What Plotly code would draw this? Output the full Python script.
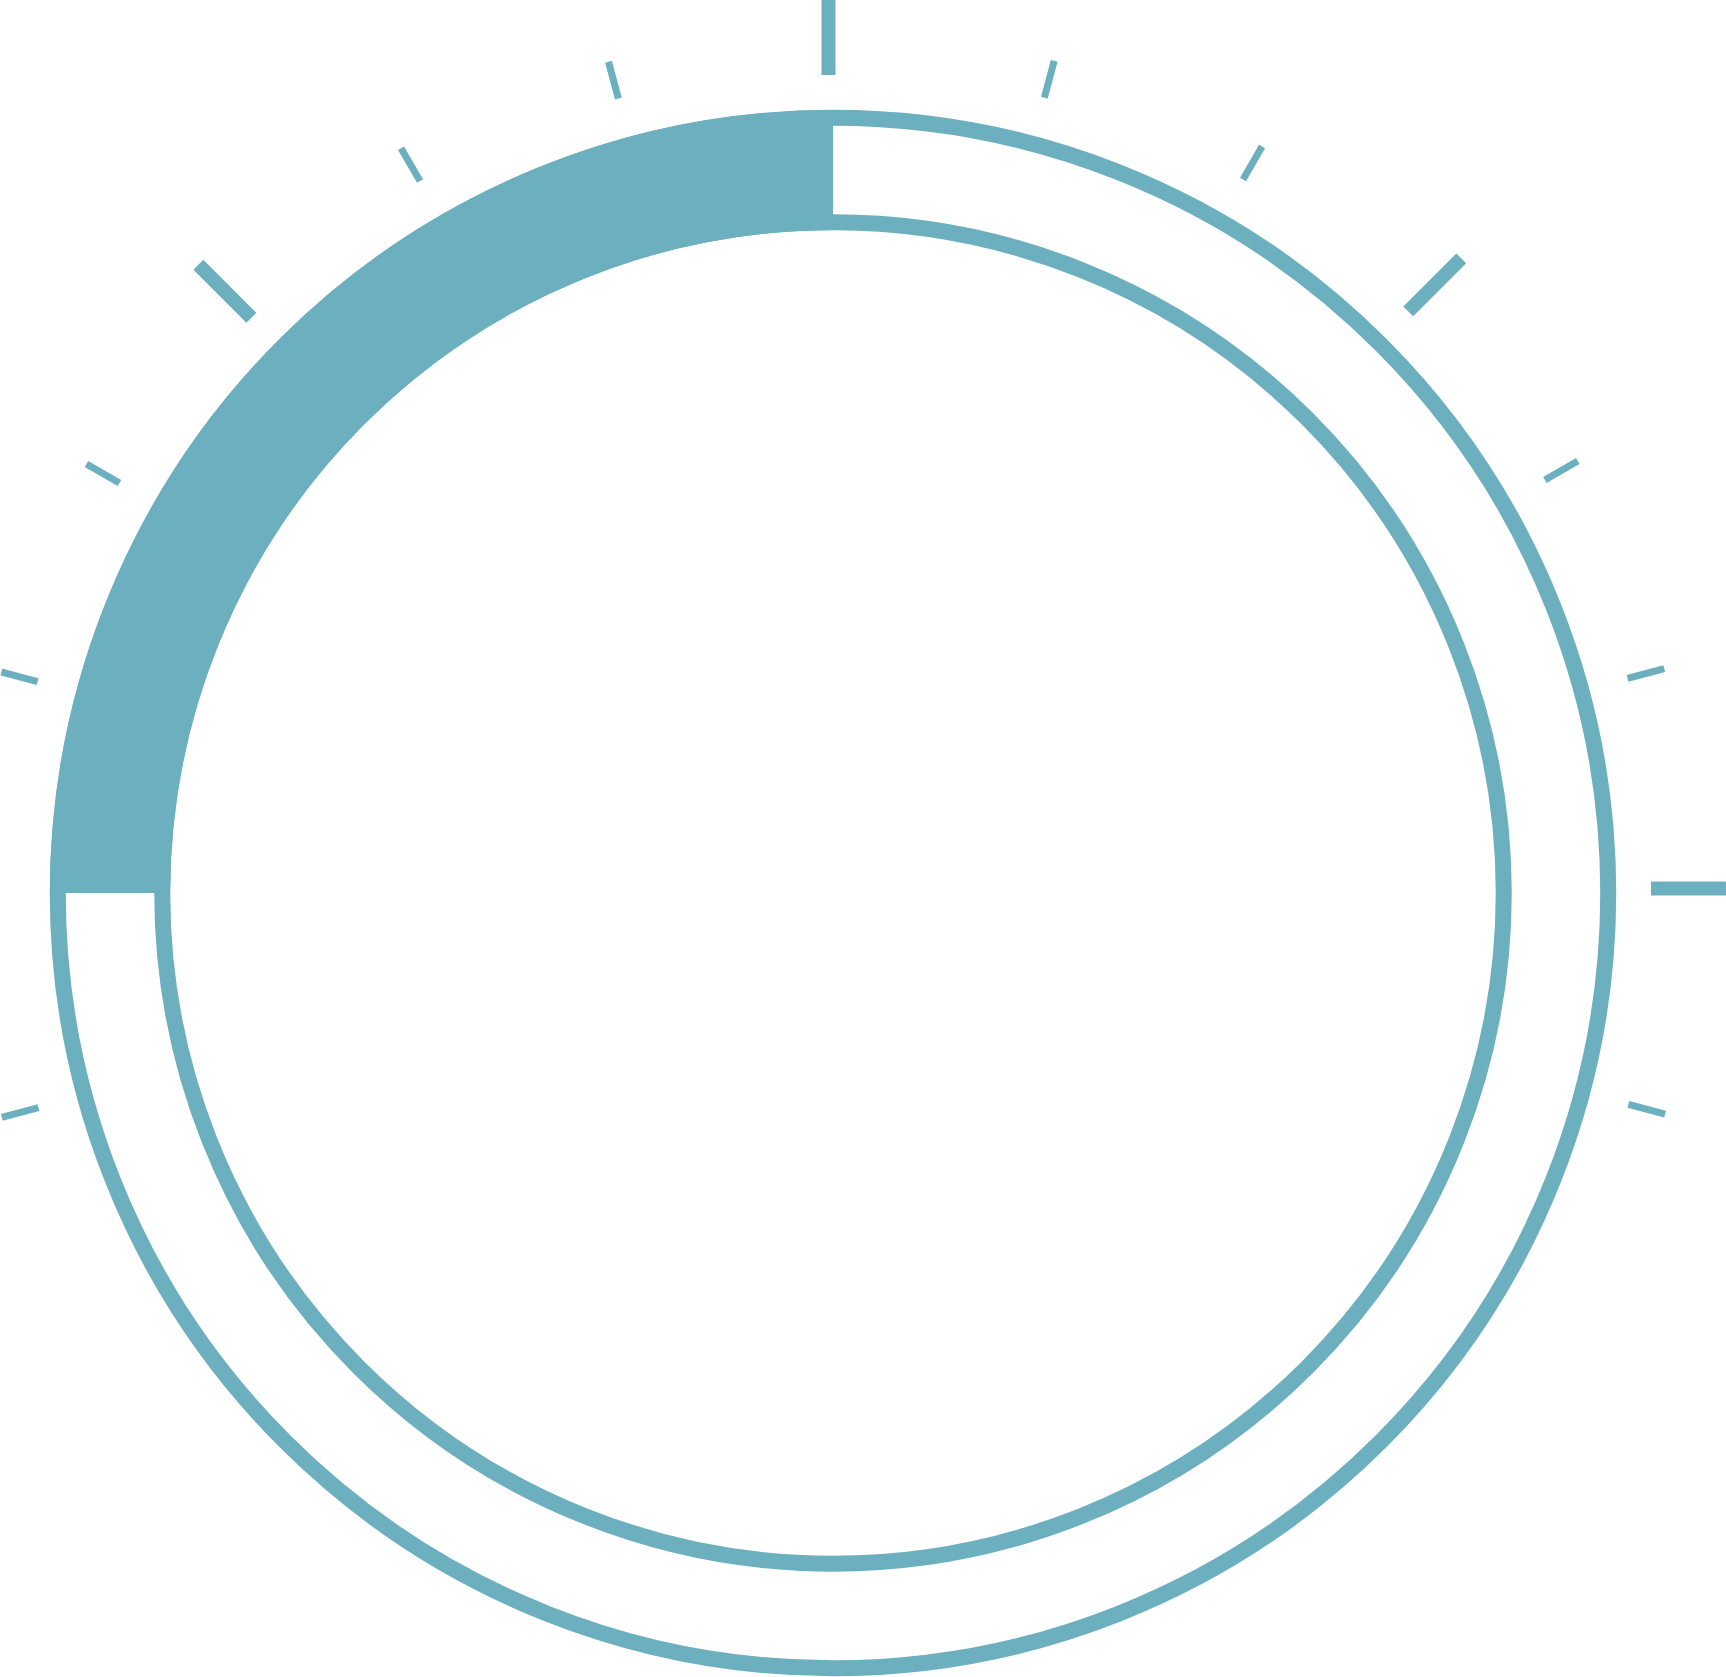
import math
import plotly.graph_objects as go

# ---- data ----
fill_start_deg = -90      # filled gauge segment start (clockwise from top)
fill_end_deg = 0          # filled gauge segment end
major_tick_angles = [-45, 0, 45, 90]
minor_tick_angles = [-105, -75, -60, -30, -15, 15, 30, 60, 75, 105]

# ---- style ----
COLOR = "rgb(108,175,191)"
W, H = 1726, 1677
CX, CY = 833, 893          # ring centre (px from left / top)
R = 784                    # main polar radius in px (radial units == px)
RING_IN, RING_OUT = 663, 783
STROKE = 15.5
MAJOR = dict(r0=818, r1=893, off=4.5, width=14)
MINOR = dict(r0=823, r1=861, off=1.7, width=7)


def sector_bbox(s0, s1):
    """Same bounding-box rule plotly uses for a polar sector."""
    arc = s1 - s0
    a0 = s0 % 360
    a1 = a0 + arc
    c = lambda a: math.cos(math.radians(a))
    s = lambda a: math.sin(math.radians(a))
    ax0, ay0, ax1, ay1 = c(a0), s(a0), c(a1), s(a1)
    if (a0 <= 90 and a1 >= 90) or (a0 > 90 and a1 >= 450):
        y1 = 1
    elif ay0 <= 0 and ay1 <= 0:
        y1 = 0
    else:
        y1 = max(ay0, ay1)
    if (a0 <= 180 and a1 >= 180) or (a0 > 180 and a1 >= 540):
        x0 = -1
    elif ax0 >= 0 and ax1 >= 0:
        x0 = 0
    else:
        x0 = min(ax0, ax1)
    if (a0 <= 270 and a1 >= 270) or (a0 > 270 and a1 >= 630):
        y0 = -1
    elif ay0 >= 0 and ay1 >= 0:
        y0 = 0
    else:
        y0 = min(ay0, ay1)
    if a1 >= 360:
        x1 = 1
    elif ax0 <= 0 and ax1 <= 0:
        x1 = 0
    else:
        x1 = max(ax0, ax1)
    return x0, y0, x1, y1


hidden_radial = dict(showline=False, showticklabels=False, ticks="", showgrid=False)
hidden_angular = dict(direction="clockwise", rotation=90, showline=False,
                      showgrid=False, showticklabels=False, ticks="")

fig = go.Figure()

# filled gauge segment
fig.add_trace(go.Barpolar(
    theta=[(fill_start_deg + fill_end_deg) / 2],
    width=[fill_end_deg - fill_start_deg],
    base=[RING_IN],
    r=[RING_OUT - RING_IN],
    marker=dict(color=COLOR, line=dict(width=0)),
    hoverinfo="skip",
))

layout_polars = {
    "polar": dict(
        domain=dict(x=[(CX - R) / W, (CX + R) / W], y=[0, 2 * R / H]),
        bgcolor="white",
        radialaxis=dict(
            range=[0, R], showline=False, showticklabels=False, ticks="",
            tickvals=[RING_IN + STROKE / 2, RING_OUT - STROKE / 2],
            showgrid=True, gridcolor=COLOR, gridwidth=STROKE,
        ),
        angularaxis=hidden_angular,
    )
}

# ticks: each one in its own thin polar sector so the long ticks fit
ticks = [(a, MAJOR) for a in major_tick_angles] + [(a, MINOR) for a in minor_tick_angles]
for i, (ang, st) in enumerate(ticks):
    name = f"polar{i + 2}"
    th, rr = [], []
    for r in (st["r0"], st["r1"]):
        rr.append(math.hypot(r, st["off"]))
        th.append(ang - math.degrees(math.atan2(st["off"], r)))
    # angular extent of the stroke (clockwise degrees, relative to ang)
    lo = math.degrees((st["off"] + st["width"] / 2) / st["r0"]) + 0.1
    hi = math.degrees((st["width"] / 2 - st["off"]) / st["r0"]) + 0.1
    s0, s1 = 90 - ang - hi, 90 - ang + lo
    x0, y0, x1, y1 = sector_bbox(s0, s1)
    lim = [900]
    if x0 < 0:
        lim.append(CX / -x0)
    if x1 > 0:
        lim.append((W - CX) / x1)
    if y1 > 0:
        lim.append(CY / y1)
    if y0 < 0:
        lim.append((H - CY) / -y0)
    Ri = min(lim) - 0.01
    bottom = H - CY
    dom_x = [max(0, (CX + x0 * Ri) / W), min(1, (CX + x1 * Ri) / W)]
    dom_y = [max(0, (bottom + y0 * Ri) / H), min(1, (bottom + y1 * Ri) / H)]
    layout_polars[name] = dict(
        domain=dict(x=dom_x, y=dom_y),
        sector=[s0, s1],
        bgcolor="rgba(0,0,0,0)",
        radialaxis=dict(range=[0, Ri], **hidden_radial),
        angularaxis=hidden_angular,
    )
    fig.add_trace(go.Scatterpolar(
        theta=th, r=rr, mode="lines", cliponaxis=False, subplot=name,
        line=dict(color=COLOR, width=st["width"]), hoverinfo="skip",
    ))

fig.update_layout(
    width=W, height=H,
    margin=dict(l=0, r=0, t=0, b=0, pad=0),
    paper_bgcolor="white",
    showlegend=False,
    **layout_polars,
)

smooth_js = """
document.querySelectorAll('.main-svg path').forEach(function (p) {
  p.style.setProperty('shape-rendering', 'geometricPrecision', 'important');
});
"""
fig.write_html("out.html", post_script=smooth_js)
